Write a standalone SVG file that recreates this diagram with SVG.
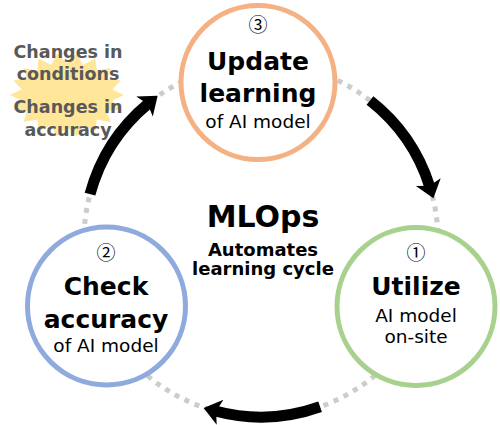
<svg xmlns="http://www.w3.org/2000/svg" width="500" height="425" viewBox="0 0 500 425">
<style>
.t{font-family:"DejaVu Sans","Noto Sans CJK JP",sans-serif;text-anchor:middle;fill:#000}
.b{font-weight:bold;font-size:25px}
.r{font-size:18.5px}
.n{font-family:"Noto Sans CJK JP","DejaVu Sans",sans-serif;font-size:19px}
.g{font-weight:bold;font-size:17.5px;fill:#595959}
.node{fill:#fff;stroke-width:5}
.arr{fill:none;stroke:#000;stroke-width:11;marker-end:url(#ah)}
</style>
<defs>
<marker id="ah" markerUnits="userSpaceOnUse" markerWidth="30" markerHeight="30" viewBox="-5 -15 25 30" refX="2" refY="0" orient="auto">
<path d="M-3,-13 L14,0 L-3,13 L1,0 Z" fill="#000"/>
</marker>
</defs>
<rect width="500" height="425" fill="#fff"/>
<g id="ring">
<circle cx="261" cy="240" r="177" fill="none" stroke="#cccccc" stroke-width="5" stroke-dasharray="5 6"/>
</g>
<g id="burst">
<polygon fill="#FFE699" points="124,95 112.3,100.6 120.6,109.4 106.8,111 110.7,122 96.6,119.5 95.5,131.4 82.7,125.1 76.9,136.4 67,127 57.1,136.4 51.3,125.1 38.5,131.4 37.4,119.5 23.3,122 27.2,111 13.4,109.4 21.7,100.6 10,95 21.7,89.4 13.4,80.6 27.2,79 23.3,68 37.4,70.5 38.5,58.6 51.3,64.9 57.1,53.6 67,63 76.9,53.6 82.7,64.9 95.5,58.6 96.6,70.5 110.7,68 106.8,79 120.6,80.6 112.3,89.4"/>
<text class="t g" x="68" y="58">Changes in</text>
<text class="t g" x="68" y="80">conditions</text>
<text class="t g" x="68" y="113">Changes in</text>
<text class="t g" x="68" y="136">accuracy</text>
</g>
<g id="connectors">
<path class="arr" d="M370,100.5 A177,177 0 0 1 429.8,186.8"/>
<path class="arr" d="M320.1,406.8 A177,177 0 0 1 215.2,411"/>
<path class="arr" d="M90,194.2 A177,177 0 0 1 148.4,103.4"/>
</g>
<g id="node-update">
<circle class="node" cx="258" cy="82.5" r="77" stroke="#F4B183"/>
<text class="t n" x="258" y="32">③</text>
<text class="t b" x="258" y="70">Update</text>
<text class="t b" x="258" y="102">learning</text>
<text class="t r" x="258" y="128">of AI model</text>
</g>
<g id="node-utilize">
<circle class="node" cx="416" cy="306.5" r="79" stroke="#A9D18E"/>
<text class="t n" x="416" y="260">①</text>
<text class="t b" x="416" y="295">Utilize</text>
<text class="t r" x="416" y="322">AI model</text>
<text class="t r" x="416" y="343">on-site</text>
</g>
<g id="node-check">
<circle class="node" cx="106.5" cy="306" r="79" stroke="#8FAADC"/>
<text class="t n" x="106" y="260">②</text>
<text class="t b" x="106" y="295">Check</text>
<text class="t b" x="106" y="328">accuracy</text>
<text class="t r" x="106" y="352">of AI model</text>
</g>
<g id="center">
<text class="t" x="263" y="227" style="font-weight:bold;font-size:30px">MLOps</text>
<text class="t" x="263" y="256" style="font-weight:bold;font-size:18px">Automates</text>
<text class="t" x="263" y="275" style="font-weight:bold;font-size:18px">learning cycle</text>
</g>
</svg>
